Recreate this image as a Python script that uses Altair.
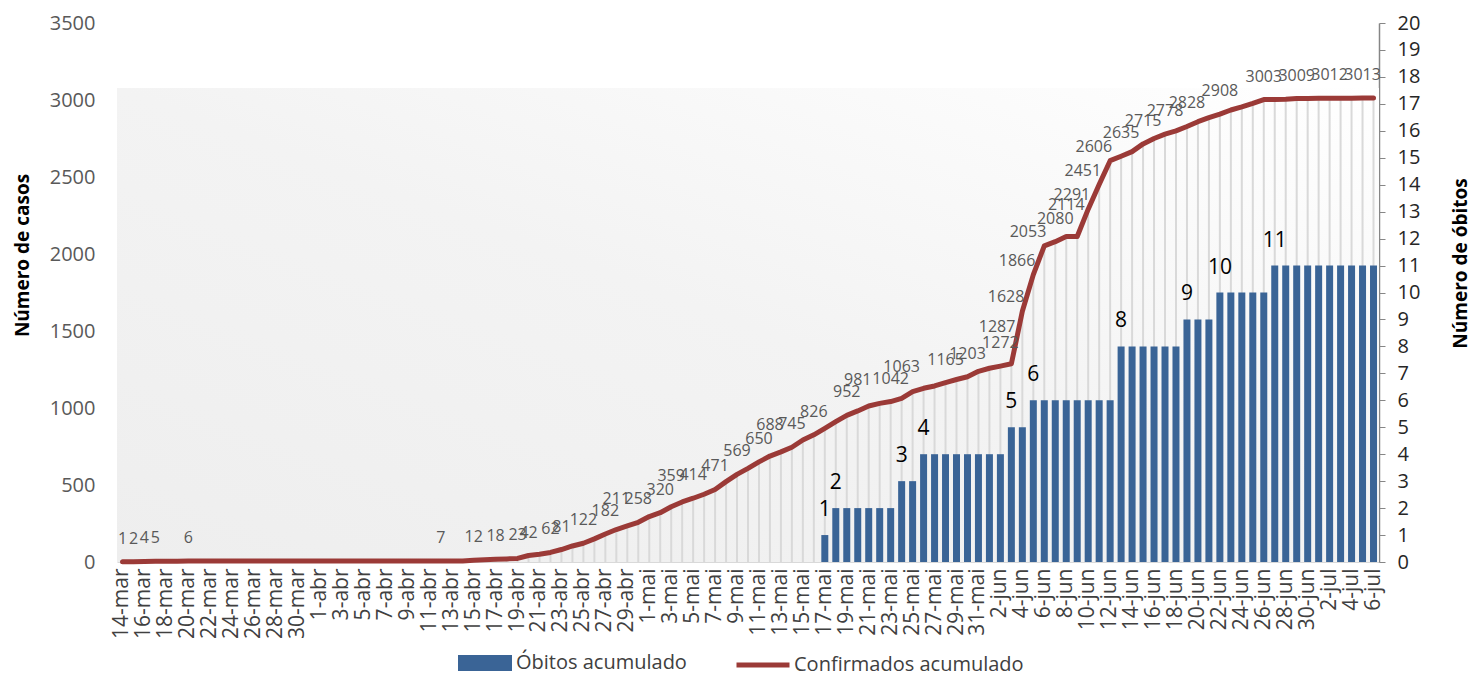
import altair as alt
import pandas as pd

# ---------------- data ----------------
meses = [("mar", 14, 31), ("abr", 1, 30), ("mai", 1, 31), ("jun", 1, 30), ("jul", 1, 6)]
datas = [f"{d}-{m}" for m, a, b in meses for d in range(a, b + 1)]

confirmados = [
    1, 2, 4, 5, 5, 5, 6, 6, 6, 6,            # 14-mar .. 23-mar
    6, 6, 6, 6, 6, 6, 6, 6, 6, 6,            # 24-mar .. 2-abr
    6, 6, 6, 6, 6, 6, 6, 6, 6, 7,            # 3-abr .. 12-abr
    7, 7, 12, 15, 18, 20, 23, 42, 50, 62,    # 13-abr .. 22-abr
    81, 104, 122, 150, 182, 211, 234, 258, 295, 320,   # 23-abr .. 2-mai
    359, 390, 414, 440, 471, 522, 569, 608, 650, 688,  # 3-mai .. 12-mai
    715, 745, 792, 826, 868, 911, 952, 981, 1013, 1030,  # 13-mai .. 22-mai
    1042, 1063, 1106, 1128, 1143, 1165, 1185, 1203, 1238, 1258,  # 23-mai .. 1-jun
    1272, 1287, 1628, 1866, 2053, 2080, 2114, 2114, 2291, 2451,  # 2-jun .. 11-jun
    2606, 2635, 2665, 2715, 2750, 2778, 2800, 2828, 2859, 2885,  # 12-jun .. 21-jun
    2908, 2935, 2955, 2978, 3003, 3004, 3005, 3009, 3010, 3011,  # 22-jun .. 1-jul
    3012, 3012, 3012, 3013, 3013,                                # 2-jul .. 6-jul
]

obitos = [
    0, 0, 0, 0, 0, 0, 0, 0, 0, 0,
    0, 0, 0, 0, 0, 0, 0, 0, 0, 0,
    0, 0, 0, 0, 0, 0, 0, 0, 0, 0,
    0, 0, 0, 0, 0, 0, 0, 0, 0, 0,
    0, 0, 0, 0, 0, 0, 0, 0, 0, 0,
    0, 0, 0, 0, 0, 0, 0, 0, 0, 0,
    0, 0, 0, 0, 1, 2, 2, 2, 2, 2,
    2, 3, 3, 4, 4, 4, 4, 4, 4, 4,
    4, 5, 5, 6, 6, 6, 6, 6, 6, 6,
    6, 8, 8, 8, 8, 8, 8, 9, 9, 9,
    10, 10, 10, 10, 10, 11, 11, 11, 11, 11,
    11, 11, 11, 11, 11,
]

rotulos_confirmados = [
    1, 2, 4, 5, 6, 7, 12, 18, 23, 42, 62, 81, 122, 182, 211, 258, 320, 359,
    414, 471, 569, 650, 688, 745, 826, 952, 981, 1042, 1063, 1165, 1203,
    1272, 1287, 1628, 1866, 2053, 2080, 2114, 2291, 2451, 2606, 2635, 2715,
    2778, 2828, 2908, 3003, 3009, 3012, 3013,
]

SERIE_OBITOS = "Óbitos acumulado"
SERIE_CONF = "Confirmados acumulado"

COR_BARRA = "#3a6496"
COR_LINHA = "#9b3a37"
FONT = "Open Sans"

# ---------------- table ----------------
df = pd.DataFrame({"data": datas, "confirmados": confirmados, "obitos": obitos})
df["s_ob"] = SERIE_OBITOS
df["s_cf"] = SERIE_CONF
prev = df["confirmados"].shift(1).fillna(0)
nxt = df["confirmados"].shift(-1).fillna(df["confirmados"])
subida = (df["confirmados"] - prev) > 100
subida_seguinte = (nxt - df["confirmados"]) > 100
vistos = set()
flags = []
for v in confirmados:
    if v in rotulos_confirmados and v not in vistos:
        flags.append(True)
        vistos.add(v)
    else:
        flags.append(False)
df["rot"] = flags
df["classe"] = "normal"
df.loc[subida_seguinte & ~subida, "classe"] = "antes"
df.loc[subida, "classe"] = "subida"

# stagger labels of consecutive days so that they do not collide
ult_i, ult_alto = -10, False
classes = list(df["classe"])
for i, (r, c, v) in enumerate(zip(flags, classes, confirmados)):
    if r and c == "normal" and v >= 100:
        alto = (i - ult_i == 1) and not ult_alto
        if alto:
            classes[i] = "alto"
        ult_i, ult_alto = i, alto
df["classe"] = classes
df["rot_ob"] = (df["obitos"] > 0) & (df["obitos"] != df["obitos"].shift(1).fillna(0))

W, H = 1262, 539

base = alt.Chart(df)

x = alt.X(
    "data:O",
    sort=datas,
    scale=alt.Scale(paddingInner=0, paddingOuter=0),
    axis=alt.Axis(
        values=datas[::2], labelAngle=-90, labelFontSize=21, labelColor="#404040",
        labelFont=FONT, ticks=False, domain=True, domainColor="#d9d9d9",
        labelPadding=6, title=None, grid=False, labelOverlap=False,
    ),
)

yl = alt.Scale(domain=[0, 3500], nice=False, zero=True)
yr = alt.Scale(domain=[0, 20], nice=False, zero=True)

axis_left = alt.Axis(
    orient="left", values=list(range(0, 3501, 500)), format="d", grid=False,
    ticks=False, domain=False,
    labelFontSize=20, labelColor="#595959", labelFont=FONT, labelPadding=22,
    title="Número de casos", titleFont=FONT, titleFontSize=19, titleFontWeight="bold",
    titleColor="black", titleAngle=270, titleX=-95, titleY=232,
    titleAlign="center", titleBaseline="middle",
)
axis_right = alt.Axis(
    orient="right", values=list(range(0, 21)), format="d", grid=False, ticks=True,
    tickSize=6, tickColor="#868686", domain=True, domainColor="#868686", domainWidth=1.5,
    labelFontSize=20, labelColor="#262626", labelFont=FONT, labelPadding=12,
    title="Número de óbitos", titleFont=FONT, titleFontSize=19, titleFontWeight="bold",
    titleColor="black", titleAngle=270, titleX=81, titleY=240,
    titleAlign="center", titleBaseline="middle",
)

gradiente = alt.LinearGradient(
    gradient="linear",
    stops=[alt.GradientStop(color="#eeeeee", offset=0),
           alt.GradientStop(color="#f3f3f3", offset=0.5),
           alt.GradientStop(color="#ffffff", offset=1)],
    x1=0, y1=1, x2=1, y2=0,
)

fundo = alt.Chart(alt.Data(values=[{"a": 1}])).mark_rect(color=gradiente).encode(
    x=alt.value(0), x2=alt.value(W), y=alt.value(65), y2=alt.value(H)
)

linhas_v = base.mark_rule(color="#d9d9d9", strokeWidth=2).encode(
    x=x,
    y=alt.Y("confirmados:Q", scale=yl, axis=axis_left),
    y2=alt.datum(0),
)

barras = base.transform_filter("datum.obitos > 0").mark_bar(size=7).encode(
    x=x,
    y=alt.Y("obitos:Q", scale=yr, axis=axis_right),
    color=alt.Color(
        "s_ob:N",
        scale=alt.Scale(domain=[SERIE_OBITOS], range=[COR_BARRA]),
        legend=alt.Legend(
            title=None, orient="none", legendX=352, legendY=624,
            symbolType="M-1.7,-0.5H1.7V0.5H-1.7Z", symbolSize=1009, symbolStrokeWidth=0,
            labelFontSize=20, labelFont=FONT, labelColor="#404040", labelOffset=15,
            labelLimit=0, padding=0,
        ),
    ),
)

rot_barras = base.transform_filter("datum.rot_ob").mark_text(
    fontSize=21, font=FONT, color="black", dy=-25, baseline="middle"
).encode(
    x=x, y=alt.Y("obitos:Q", scale=yr, axis=None), text="obitos:Q"
)

linha = base.mark_line(strokeWidth=5, strokeCap="round", strokeJoin="round").encode(
    x=x,
    y=alt.Y("confirmados:Q", scale=yl, axis=None),
    stroke=alt.Stroke(
        "s_cf:N",
        scale=alt.Scale(domain=[SERIE_CONF], range=[COR_LINHA]),
        legend=alt.Legend(
            title=None, orient="none", legendX=617, legendY=613,
            symbolType="stroke", symbolSize=2809, symbolStrokeWidth=5,
            labelFontSize=20, labelFont=FONT, labelColor="#404040", labelOffset=2,
            labelLimit=0, padding=0,
        ),
    ),
)

def rotulos(classe, **kw):
    return base.transform_filter(
        f"datum.rot && datum.classe == '{classe}'"
    ).mark_text(fontSize=16, font=FONT, color="#595959", baseline="middle", **kw).encode(
        x=x, y=alt.Y("confirmados:Q", scale=yl, axis=None), text="confirmados:Q"
    )

rot_normais = rotulos("normal", dy=-23)
rot_altos = rotulos("alto", dy=-31)
rot_subida = rotulos("subida", align="right", dx=2, dy=-14)
rot_antes = rotulos("antes", align="right", dx=4, dy=-37)

chart = alt.layer(
    fundo, linhas_v, barras, rot_barras, linha, rot_normais, rot_altos, rot_subida, rot_antes
).resolve_scale(
    y="independent"
).properties(
    width=W, height=H,
    autosize=alt.AutoSizeParams(type="none"),
    padding={"left": 109, "top": 15, "right": 95, "bottom": 112},
    background="white",
).configure_view(stroke=None)

chart.save("out.html", embed_options={"renderer": "svg", "actions": False})
